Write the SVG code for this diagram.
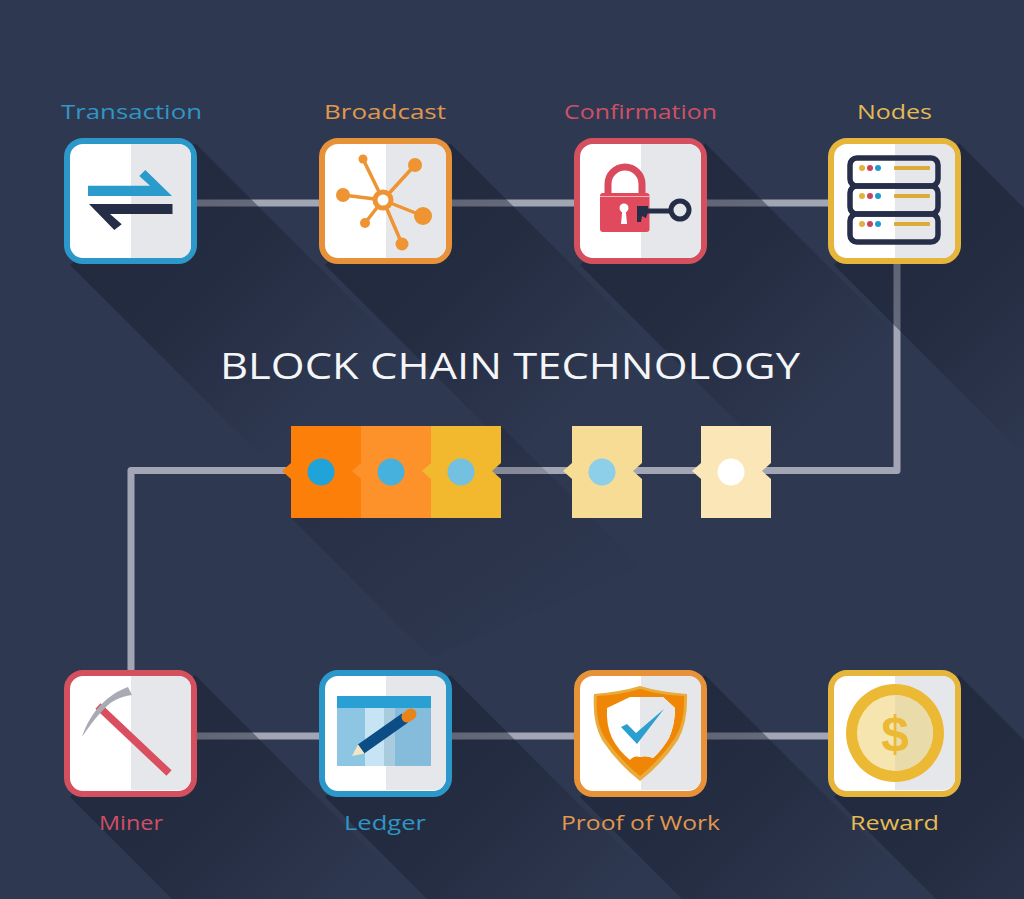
<svg xmlns="http://www.w3.org/2000/svg" xmlns:xlink="http://www.w3.org/1999/xlink" width="1024" height="899" viewBox="0 0 1024 899">
<style>
.lbl{font-family:"Open Sans","DejaVu Sans",sans-serif;font-size:20px}
.title{font-family:"Open Sans","DejaVu Sans",sans-serif;font-size:37px;fill:#f4f5f7}
.conn{fill:none;stroke:#a2a6b4;stroke-width:7;stroke-linejoin:round}
.frame{fill:#fff;stroke-width:6}
.half{fill:#e6e7eb}
.blue{stroke:#2c98c9}.orange{stroke:#e79238}.red{stroke:#d4505f}.yellow{stroke:#e5b53c}
.tb{fill:#3096c4}.to{fill:#e0984f}.tr{fill:#cf5066}.ty{fill:#e4bb52}
.spoke{stroke:#ee9433;stroke-width:3.5;fill:none}
.hub{fill:#ee9433}
.srv{fill:none;stroke:#262e49;stroke-width:5.500}
.bar{fill:#dcaa38}
.d1{fill:#e3b13c}.d2{fill:#c9455c}.d3{fill:#1f9ccb}
</style>
<defs>
<linearGradient id="fade" x1="0" y1="0" x2="1" y2="1">
<stop offset="0.2" stop-color="#171c2e" stop-opacity="0.5"/>
<stop offset="0.45" stop-color="#171c2e" stop-opacity="0.42"/>
<stop offset="0.82" stop-color="#171c2e" stop-opacity="0"/>
</linearGradient>
<linearGradient id="fadeb" x1="0" y1="0" x2="1" y2="1">
<stop offset="0.25" stop-color="#171c2e" stop-opacity="0.28"/>
<stop offset="0.85" stop-color="#171c2e" stop-opacity="0"/>
</linearGradient>
<polygon id="sh" points="131,5 321,195 196,317 6,127" fill="url(#fade)"/>
<g id="box"><path class="half" d="M67,6H115a12,12 0 0 1 12,12V108a12,12 0 0 1 -12,12H67Z"/></g>
</defs>
<rect id="background" width="1024" height="899" fill="#2e3850"/>

<g id="connectors">
<path class="conn" d="M197,203H319M451,203H574M707,203H828"/>
<path class="conn" d="M897,262V470.500H760"/>
<path class="conn" d="M700,470.500H490"/>
<path class="conn" d="M290,470.500H131V670"/>
<path class="conn" d="M197,736H319M451,736H574M707,736H828"/>
</g>

<g id="shadows">
<use xlink:href="#sh" x="64" y="138"/>
<use xlink:href="#sh" x="319" y="138"/>
<use xlink:href="#sh" x="574" y="138"/>
<use xlink:href="#sh" x="828" y="138"/>
<use xlink:href="#sh" x="64" y="670"/>
<use xlink:href="#sh" x="319" y="670"/>
<use xlink:href="#sh" x="574" y="670"/>
<use xlink:href="#sh" x="828" y="670"/>
<polygon points="501,426 641,566 431,658 291,518" fill="url(#fadeb)"/>
</g>

<g id="title"><text class="title" x="220" y="379" textLength="580" lengthAdjust="spacingAndGlyphs">BLOCK CHAIN TECHNOLOGY</text></g>

<g id="node-transaction">
<g transform="translate(64,138)"><rect class="frame blue" x="3" y="3" width="127" height="120" rx="16"/><use xlink:href="#box"/></g>
<polygon points="88,185.700 150,185.700 139.300,176 145.300,170 172,196 88,196" fill="#2a9bca"/>
<polygon points="89,204 172.500,204 172.500,214 110,214 121.700,224.300 114.300,230" fill="#252d47"/>
<text class="lbl tb" x="61" y="119" textLength="141" lengthAdjust="spacingAndGlyphs">Transaction</text>
</g>

<g id="node-broadcast">
<g transform="translate(319,138)"><rect class="frame orange" x="3" y="3" width="127" height="120" rx="16"/><use xlink:href="#box"/></g>
<path class="spoke" d="M383,200L363,159M383,200L415,165M383,200L343,195M383,200L423,216M383,200L402,244M383,200L365,223"/>
<circle class="hub" cx="363" cy="159" r="4.500"/><circle class="hub" cx="415" cy="165" r="7"/><circle class="hub" cx="343" cy="195" r="7"/><circle class="hub" cx="423" cy="216" r="9"/><circle class="hub" cx="402" cy="244" r="6.500"/><circle class="hub" cx="365" cy="223" r="5"/>
<circle cx="383" cy="200" r="8" fill="#fff" stroke="#ee9433" stroke-width="5"/>
<text class="lbl to" x="324" y="119" textLength="122" lengthAdjust="spacingAndGlyphs">Broadcast</text>
</g>

<g id="node-confirmation">
<g transform="translate(574,138)"><rect class="frame red" x="3" y="3" width="127" height="120" rx="16"/><use xlink:href="#box"/></g>
<path d="M608,194V184a17,17 0 0 1 34,0V194" fill="none" stroke="#d94b5c" stroke-width="7"/>
<rect x="600" y="193" width="49.500" height="39" rx="3" fill="#e04a5c"/>
<rect x="600" y="196" width="49.500" height="1" fill="#f3b3bb"/>
<circle cx="624" cy="208" r="4.500" fill="#fff"/><polygon points="622.500,208 625.500,208 627,224 621,224" fill="#fff"/>
<path d="M640,211H672" stroke="#252d47" stroke-width="5" fill="none"/>
<polygon points="637,206 648,206 648,212 646,218 642,216 641,222 637,222" fill="#252d47"/>
<circle cx="680" cy="210" r="9" fill="#e6e7eb" stroke="#252d47" stroke-width="5"/>
<text class="lbl tr" x="564" y="119" textLength="153" lengthAdjust="spacingAndGlyphs">Confirmation</text>
</g>

<g id="node-nodes">
<g transform="translate(828,138)"><rect class="frame yellow" x="3" y="3" width="127" height="120" rx="16"/><use xlink:href="#box"/></g>
<rect class="srv" x="850" y="158" width="88" height="28" rx="7"/><rect class="srv" x="850" y="186" width="88" height="28" rx="7"/><rect class="srv" x="850" y="214" width="88" height="28" rx="7"/>
<circle class="d1" cx="862" cy="168" r="3"/><circle class="d2" cx="870" cy="168" r="3"/><circle class="d3" cx="878" cy="168" r="3"/>
<circle class="d1" cx="862" cy="196" r="3"/><circle class="d2" cx="870" cy="196" r="3"/><circle class="d3" cx="878" cy="196" r="3"/>
<circle class="d1" cx="862" cy="224" r="3"/><circle class="d2" cx="870" cy="224" r="3"/><circle class="d3" cx="878" cy="224" r="3"/>
<rect class="bar" x="894" y="166" width="36" height="4" rx="1"/><rect class="bar" x="894" y="194" width="36" height="4" rx="1"/><rect class="bar" x="894" y="222" width="36" height="4" rx="1"/>
<text class="lbl ty" x="857" y="119" textLength="75" lengthAdjust="spacingAndGlyphs">Nodes</text>
</g>

<g id="blocks">
<path d="M291,426H361V518H291V479L282,471L291,463Z" fill="#fb7f08"/>
<path d="M361,426H431V518H361V479L352,471L361,463Z" fill="#fd922b"/>
<path d="M431,426H501V463L492,471L501,479V518H431V479L422,471L431,463Z" fill="#f2b92e"/>
<path d="M572,426H642V463L633,471L642,479V518H572V479L563,471L572,463Z" fill="#f7dc95"/>
<path d="M701,426H771V463L762,471L771,479V518H701V479L692,471L701,463Z" fill="#fbe6b8"/>
<circle cx="321" cy="472" r="13.500" fill="#1fa3d9"/>
<circle cx="391" cy="472" r="13.500" fill="#47b1dd"/>
<circle cx="461" cy="472" r="13.500" fill="#73c0e0"/>
<circle cx="602" cy="472" r="13.500" fill="#8dcfe9"/>
<circle cx="731" cy="472" r="13.500" fill="#fff"/>
</g>

<g id="node-miner">
<g transform="translate(64,670)"><rect class="frame red" x="3" y="3" width="127" height="121" rx="16"/><use xlink:href="#box"/></g>
<line x1="98" y1="706" x2="169" y2="773" stroke="#d94f60" stroke-width="7.500"/>
<path d="M82,737C90,712 108,694 128,687L132,695C120,697 112,700 104,709C95,718 88,728 82,737Z" fill="#a8abb3"/>
<text class="lbl tr" x="99" y="830" textLength="64" lengthAdjust="spacingAndGlyphs">Miner</text>
</g>

<g id="node-ledger">
<g transform="translate(319,670)"><rect class="frame blue" x="3" y="3" width="127" height="121" rx="16"/><use xlink:href="#box"/></g>
<rect x="337" y="708" width="28" height="58" fill="#8cc6e3"/><rect x="365" y="708" width="19" height="58" fill="#c6e4f3"/><rect x="384" y="708" width="11" height="58" fill="#a9cbde"/><rect x="395" y="708" width="36" height="58" fill="#85bcdc"/>
<rect x="337" y="696" width="94" height="12" fill="#2a9fd3"/>
<line x1="361" y1="749" x2="405" y2="718" stroke="#0d4d85" stroke-width="11"/>
<line x1="407" y1="717" x2="411" y2="714" stroke="#e8841a" stroke-width="11" stroke-linecap="round"/>
<polygon points="358,744.500 364.500,753.500 352,756" fill="#f4e6c4"/>
<text class="lbl tb" x="344" y="830" textLength="82" lengthAdjust="spacingAndGlyphs">Ledger</text>
</g>

<g id="node-proof">
<g transform="translate(574,670)"><rect class="frame orange" x="3" y="3" width="127" height="121" rx="16"/><use xlink:href="#box"/></g>
<path d="M594,694Q620,692 640,686Q660,692 687,694Q688,722 678,740Q662,764 640,781Q618,764 602,740Q592,722 594,694Z" fill="#e8ab3c"/>
<path d="M597,696Q620,695 640,689Q660,695 684,696Q685,722 675,738Q660,760 640,776Q620,760 605,738Q595,722 597,696Z" fill="#ef8606"/>
<path d="M607,708L630,697H663L675,708Q675,725 669,738Q662,750 653,758Q646,755 640,757Q634,755 630,760Q618,750 612,738Q606,725 607,708Z" fill="#fff"/>
<path d="M640,697H663L675,708Q675,725 669,738Q662,750 653,758Q646,755 640,757Z" fill="#e6e7eb"/>
<polygon points="621,727 627,724 636,733 664,709 637,744" fill="#2a9fd0"/>
<text class="lbl to" x="561" y="830" textLength="159" lengthAdjust="spacingAndGlyphs">Proof of Work</text>
</g>

<g id="node-reward">
<g transform="translate(828,670)"><rect class="frame yellow" x="3" y="3" width="127" height="121" rx="16"/><use xlink:href="#box"/></g>
<circle cx="895" cy="733" r="49" fill="#ecb934"/>
<circle cx="895" cy="733" r="38" fill="#f7e5b0"/>
<path d="M895,695a38,38 0 0 1 0,76Z" fill="#e9dcaa"/>
<text x="895" y="751" text-anchor="middle" font-family="Liberation Sans, sans-serif" font-weight="bold" font-size="50" fill="#ecb934">$</text>
<text class="lbl ty" x="850" y="830" textLength="89" lengthAdjust="spacingAndGlyphs">Reward</text>
</g>
</svg>
